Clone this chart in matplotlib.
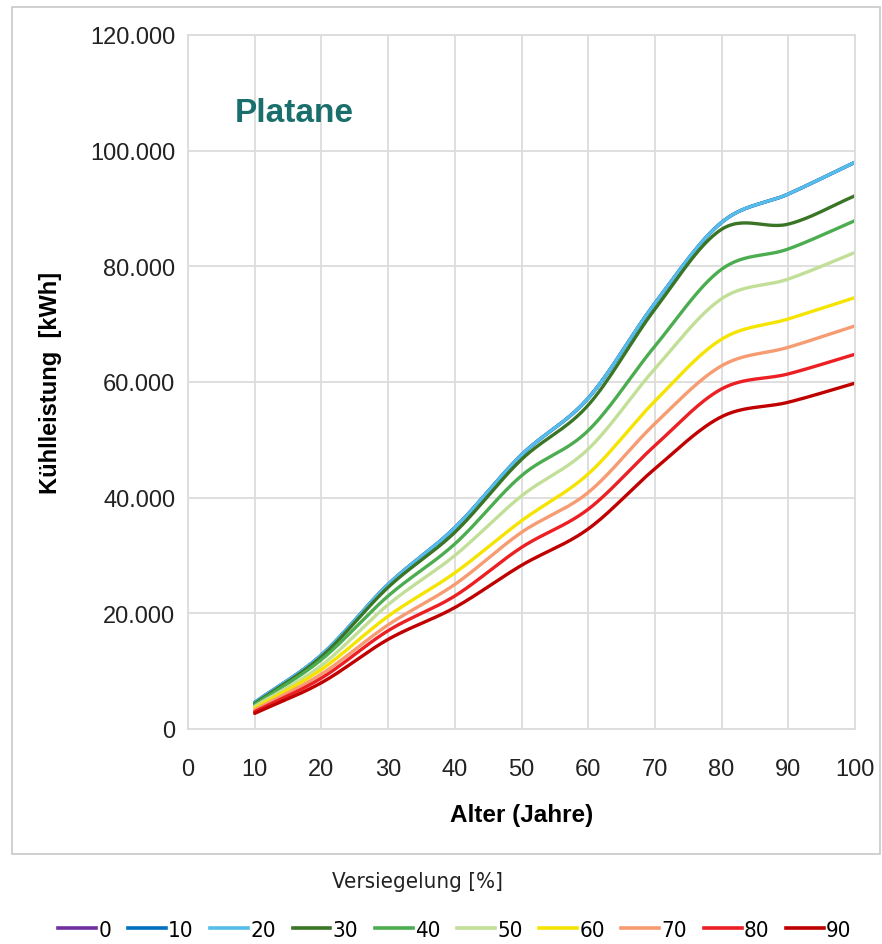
import numpy as np
import matplotlib.pyplot as plt
from matplotlib.patches import Rectangle
from matplotlib.lines import Line2D

# Alter (Jahre)
ages = [10, 20, 30, 40, 50, 60, 70, 80, 90, 100]

# Kühlleistung [kWh] je Versiegelungsgrad [%]
v0 = [4600, 12800, 25000, 34800, 47400, 57200, 73600, 87600, 92500, 98000]
v10 = [4600, 12800, 25000, 34800, 47400, 57200, 73600, 87600, 92500, 98000]
v20 = [4600, 12800, 25000, 34800, 47400, 57200, 73600, 87600, 92500, 98000]
v30 = [4400, 12500, 24500, 34000, 46600, 56000, 72600, 86400, 87300, 92200]
v40 = [4200, 12000, 23000, 32000, 43800, 51600, 66200, 79500, 83000, 87900]
v50 = [3900, 11000, 21500, 30000, 40300, 48400, 62300, 74400, 77800, 82400]
v60 = [3600, 10300, 19500, 27000, 36000, 44100, 56700, 67400, 70900, 74600]
v70 = [3300, 9500, 18000, 25000, 34000, 40900, 52800, 62800, 66000, 69700]
v80 = [3000, 8800, 17000, 23000, 31400, 38000, 49000, 58800, 61400, 64800]
v90 = [2700, 8000, 15500, 21000, 28300, 34600, 45000, 54000, 56500, 59800]

series = [v0, v10, v20, v30, v40, v50, v60, v70, v80, v90]
labels = ["0", "10", "20", "30", "40", "50", "60", "70", "80", "90"]
colors = ["#7030a0", "#0070c0", "#56bdeb", "#3a7526", "#4cad50",
          "#c2df98", "#f5e400", "#f79b72", "#ec2024", "#c00000"]


def smooth(x, y, n=30):
    # Catmull-Rom curve through the points (like Excel's smoothed lines)
    x = np.asarray(x, float)
    y = np.asarray(y, float)
    px = np.concatenate([[2 * x[0] - x[1]], x, [2 * x[-1] - x[-2]]])
    py = np.concatenate([[2 * y[0] - y[1]], y, [2 * y[-1] - y[-2]]])
    t = np.linspace(0, 1, n, endpoint=False)
    xs, ys = [], []
    for i in range(1, len(px) - 2):
        for P, out in ((px, xs), (py, ys)):
            p0, p1, p2, p3 = P[i - 1], P[i], P[i + 1], P[i + 2]
            out.extend(0.5 * (2 * p1 + (-p0 + p2) * t
                              + (2 * p0 - 5 * p1 + 4 * p2 - p3) * t ** 2
                              + (-p0 + 3 * p1 - 3 * p2 + p3) * t ** 3))
    xs.append(x[-1])
    ys.append(y[-1])
    return np.array(xs), np.array(ys)


fig = plt.figure(figsize=(8.82, 9.45), dpi=100)
ax = fig.add_axes([188 / 882, 1 - 730 / 945, 667 / 882, 694 / 945])

for vals, c in zip(series, colors):
    sx, sy = smooth(ages, vals)
    ax.plot(sx, sy, color=c, linewidth=2.4, solid_capstyle="round")

ax.set_xlim(0, 100)
ax.set_ylim(0, 120000)
ax.set_xticks(range(0, 101, 10))
ax.set_yticks(range(0, 120001, 20000))
ax.set_yticklabels([f"{v:,}".replace(",", ".") for v in range(0, 120001, 20000)])
ax.grid(True, color="#dcdcdc", linewidth=1.3)
ax.set_axisbelow(True)
for s in ax.spines.values():
    s.set_color("#dcdcdc")
    s.set_linewidth(1.3)
ax.tick_params(length=0, labelsize=17, colors="#222222")
ax.tick_params(axis="y", pad=9)
ax.tick_params(axis="x", pad=21)
for lab in ax.get_xticklabels() + ax.get_yticklabels():
    lab.set_family("Liberation Sans")

ax.set_xlabel("Alter (Jahre)", fontsize=17.5, fontweight="bold",
              family="Liberation Sans", va="top")
ax.xaxis.set_label_coords(0.5, -(804 - 730) / 694)
ax.set_ylabel("Kühlleistung  [kWh]", fontsize=17, fontweight="bold",
              family="Liberation Sans")
ax.yaxis.set_label_coords((62 - 188) / 667, 0.5)

ax.text(235 / 882, 1 - 113 / 945, "Platane", transform=fig.transFigure,
        fontsize=24, fontweight="bold", color="#1a6f6c",
        family="Liberation Sans", va="center", ha="left")

# outer chart border
fig.patches.append(Rectangle((12 / 882, 1 - 855 / 945), 868 / 882, 847 / 945,
                             transform=fig.transFigure, fill=False,
                             edgecolor="#c8c8c8", linewidth=1.2))

fig.text(418 / 882, 1 - 882 / 945, "Versiegelung [%]", fontsize=16,
         family="DejaVu Sans", fontstretch="condensed", color="#222222",
         ha="center", va="center")

handles = [Line2D([], [], color=c, linewidth=2.6) for c in colors]
fig.legend(handles, labels, loc="center", bbox_to_anchor=(455 / 882, 1 - 931 / 945),
           ncol=10, frameon=False, handlelength=1.7, handletextpad=0.1,
           columnspacing=0.75, borderpad=0.2,
           prop={"family": "DejaVu Sans", "stretch": "condensed", "size": 16})

fig.savefig("out.png", dpi=100)
